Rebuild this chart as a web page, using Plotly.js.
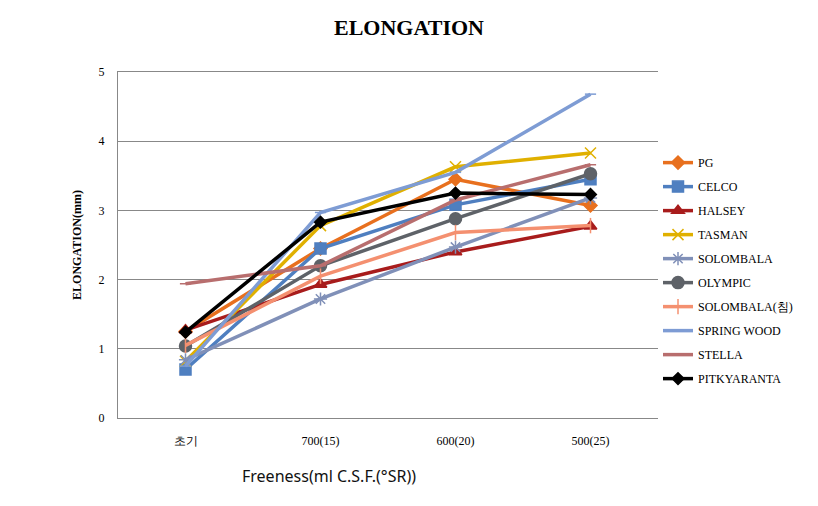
<!DOCTYPE html>
<html><head><meta charset="utf-8">
<script src="https://cdn.plot.ly/plotly-3.0.1.min.js"></script>
<style>body{margin:0;background:#fff}#c{width:818px;height:506px}</style>
</head><body><div id="c"></div>
<script>
const categories = ["초기", "700(15)", "600(20)", "500(25)"];
const PG = [1.25, 2.45, 3.45, 3.07];
const CELCO = [0.70, 2.45, 3.08, 3.45];
const HALSEY = [1.27, 1.93, 2.40, 2.77];
const TASMAN = [0.82, 2.78, 3.63, 3.83];
const SOLOMBALA = [0.84, 1.72, 2.47, 3.18];
const OLYMPIC = [1.04, 2.20, 2.88, 3.53];
const SOLOMBALA_C = [1.05, 2.05, 2.68, 2.78];
const SPRING_WOOD = [0.75, 2.97, 3.55, 4.68];
const STELLA = [1.94, 2.20, 3.15, 3.66];
const PITKYARANTA = [1.24, 2.83, 3.25, 3.23];
const yTicks = [0, 1, 2, 3, 4, 5];

const series = [
  {name:"PG", y:PG, color:"#E8701E", symbol:"diamond", size:10},
  {name:"CELCO", y:CELCO, color:"#4F7FC0", symbol:"square", size:11},
  {name:"HALSEY", y:HALSEY, color:"#A81C1C", symbol:"triangle-up", size:11},
  {name:"TASMAN", y:TASMAN, color:"#E0B000", symbol:"x-thin-open", size:11},
  {name:"SOLOMBALA", y:SOLOMBALA, color:"#8090B8", symbol:"asterisk-open", size:11},
  {name:"OLYMPIC", y:OLYMPIC, color:"#5E6268", symbol:"circle", size:12},
  {name:"SOLOMBALA(침)", y:SOLOMBALA_C, color:"#F49070", symbol:"line-ns-open", size:11},
  {name:"SPRING WOOD", y:SPRING_WOOD, color:"#7E9CD4", symbol:"line-ew-open", size:8},
  {name:"STELLA", y:STELLA, color:"#B86E6E", symbol:"line-ew-open", size:8},
  {name:"PITKYARANTA", y:PITKYARANTA, color:"#000000", symbol:"diamond", size:9}
];

const traces = series.map((s, i) => ({
  type:"scatter", mode:"lines+markers", name:s.name, x:categories, y:s.y,
  legendgroup:"g"+i,
  line:{color:s.color, width:3.5},
  marker:{symbol:s.symbol, size:s.size, color:s.color, line:{color:s.color, width:1.5}}
}));

const layout = {
  width:818, height:506,
  paper_bgcolor:"#fff", plot_bgcolor:"#fff",
  margin:{l:118, r:160, t:72, b:88},
  title:{text:"<b>ELONGATION</b>", x:0.5, xanchor:"center", y:0.946, yanchor:"middle",
    font:{family:"Liberation Serif", size:22, color:"#000"}},
  xaxis:{type:"category", range:[-0.5, 3.5], showgrid:false, showline:true, mirror:true, linecolor:"#888",
    zeroline:false, ticks:"", ticklabelstandoff:12,
    tickfont:{family:"Liberation Serif", size:12, color:"#000"}},
  yaxis:{range:[0, 5], tickvals:yTicks, ticktext:yTicks.map(String), showgrid:true, gridcolor:"#888",
    gridwidth:1, showline:true, linecolor:"#888", zeroline:false, ticks:"", ticklabelstandoff:10,
    tickfont:{family:"Liberation Serif", size:12, color:"#000"},
    title:{text:"<b>ELONGATION(mm)</b>", font:{family:"Liberation Serif", size:12, color:"#000"}, standoff:14}},
  annotations:[{text:"Freeness(ml C.S.F.(°SR))", xref:"paper", yref:"paper", x:0.39, y:-0.168,
    xanchor:"center", yanchor:"middle", showarrow:false,
    font:{family:"Noto Sans", size:16, color:"#111"}}],
  legend:{x:1.0, xanchor:"left", y:0.78, yanchor:"top", tracegroupgap:5,
    font:{family:"Liberation Serif", size:12, color:"#000"}, itemwidth:30, bgcolor:"rgba(0,0,0,0)"},
  showlegend:true
};
Plotly.newPlot("c", traces, layout, {displayModeBar:false});
</script></body></html>
